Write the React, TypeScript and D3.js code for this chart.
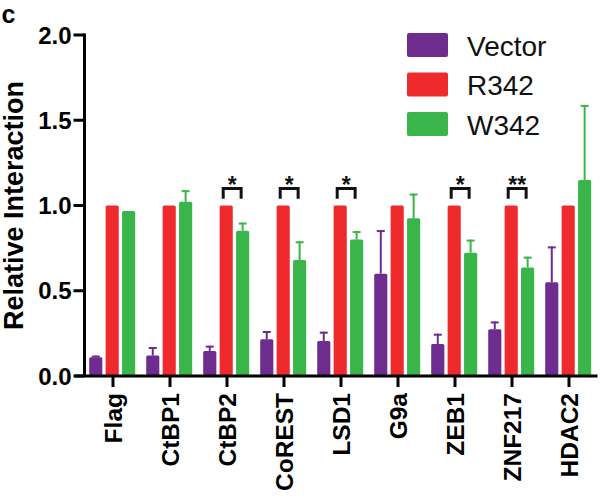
import React from "react";
import * as d3 from "d3";

const categories = ["Flag", "CtBP1", "CtBP2", "CoREST", "LSD1", "G9a", "ZEB1", "ZNF217", "HDAC2"];
const seriesNames = ["Vector", "R342", "W342"];
const vectorValues = [0.11, 0.12, 0.147, 0.215, 0.205, 0.6, 0.188, 0.274, 0.55];
const vectorErrors = [0.12, 0.17, 0.178, 0.264, 0.26, 0.856, 0.248, 0.32, 0.76];
const r342Values = [1, 1, 1, 1, 1, 1, 1, 1, 1];
const r342Errors = [1, 1, 1, 1, 1, 1, 1, 1, 1];
const w342Values = [0.968, 1.022, 0.852, 0.68, 0.8, 0.925, 0.723, 0.637, 1.15];
const w342Errors = [0.968, 1.09, 0.9, 0.79, 0.85, 1.07, 0.8, 0.7, 1.59];
const significance = [
  { category: "CtBP2", label: "*" },
  { category: "CoREST", label: "*" },
  { category: "LSD1", label: "*" },
  { category: "ZEB1", label: "*" },
  { category: "ZNF217", label: "**" },
];
const yTicks = [0, 0.5, 1.0, 1.5, 2.0];
const colors = ["#6f2c8f", "#ee2a2c", "#3ab54a"];

const W = 600;
const H = 498;
const FONT = "'Liberation Sans', Arial, Helvetica, sans-serif";

export default function App() {
  const left = 84.5;
  const right = 597.5;
  const top = 35;
  const bottom = 376;

  const y = d3.scaleLinear().domain([0, 2]).range([bottom, top]);
  const x0 = d3.scaleBand<string>().domain(categories).range([left, right]).padding(0);
  const x1 = d3.scaleBand<string>().domain(seriesNames).range([-23.8, 22.2]).paddingInner(0.2).paddingOuter(0);

  const values = [vectorValues, r342Values, w342Values];
  const errors = [vectorErrors, r342Errors, w342Errors];

  const center = (c: string) => (x0(c) as number) + x0.bandwidth() / 2;
  const bw = x1.bandwidth();

  return (
    <svg width={W} height={H} style={{ position: "absolute", left: 0, top: 0, background: "#fff" }} fontFamily={FONT}>
      <rect x={0} y={0} width={W} height={H} fill="#fff" />
      {/* panel letter */}
      <text x={1.5} y={23} fontSize={25} fontWeight="bold" fill="#000">c</text>

      {/* bars and error bars */}
      {categories.map((c, i) => (
        <g key={c}>
          {seriesNames.map((s, k) => {
            const bx = center(c) + (x1(s) as number);
            const v = values[k][i];
            const e = errors[k][i];
            const cx = bx + bw / 2;
            return (
              <g key={s}>
                {e > v + 0.001 && (
                  <g stroke={colors[k]} strokeWidth={2}>
                    <line x1={cx} x2={cx} y1={y(v)} y2={y(e)} />
                    <line x1={cx - 4} x2={cx + 4} y1={y(e) + 1} y2={y(e) + 1} />
                  </g>
                )}
                <rect x={bx} y={y(v)} width={bw} height={bottom - y(v)} fill={colors[k]} rx={1.5} />
              </g>
            );
          })}
        </g>
      ))}

      {/* significance brackets */}
      {significance.map((sg) => {
        const rc = center(sg.category) + (x1("R342") as number) + bw / 2;
        const gc = center(sg.category) + (x1("W342") as number) + bw / 2;
        const xa = rc - 3;
        const xb = gc - 1.5;
        const ty = y(1.1);
        const ly = y(1.04);
        return (
          <g key={sg.category}>
            <path d={`M${xa},${ly} V${ty} H${xb} V${ly}`} fill="none" stroke="#111" strokeWidth={3} />
            <text x={(xa + xb) / 2} y={ty + 5} fontSize={23} fontWeight="bold" textAnchor="middle" fill="#111">
              {sg.label}
            </text>
          </g>
        );
      })}

      {/* y axis */}
      <line x1={left} x2={left} y1={top - 1.5} y2={bottom} stroke="#000" strokeWidth={3} />
      {yTicks.map((t) => (
        <g key={t}>
          <line x1={left - 11} x2={left} y1={y(t)} y2={y(t)} stroke="#000" strokeWidth={3} />
          <text x={left - 13} y={y(t) + 8.5} fontSize={24} fontWeight="bold" textAnchor="end" fill="#000">
            {d3.format(".1f")(t)}
          </text>
        </g>
      ))}
      <text
        transform={`translate(23, ${(top + bottom) / 2}) rotate(-90)`}
        fontSize={27}
        fontWeight="bold"
        textAnchor="middle"
        fill="#000"
      >
        Relative Interaction
      </text>

      {/* x axis */}
      <line x1={left - 10} x2={right} y1={bottom} y2={bottom} stroke="#000" strokeWidth={3} />
      {categories.map((c) => (
        <g key={c}>
          <line x1={center(c)} x2={center(c)} y1={bottom} y2={bottom + 11} stroke="#000" strokeWidth={3} />
          <text
            transform={`translate(${center(c)}, ${bottom + 17}) rotate(-90)`}
            dy="0.35em"
            fontSize={24.5}
            fontWeight="bold"
            textAnchor="end"
            fill="#000"
          >
            {c}
          </text>
        </g>
      ))}

      {/* legend */}
      {seriesNames.map((s, k) => (
        <g key={s} transform={`translate(407, ${33 + k * 39.5})`}>
          <rect x={0} y={0} width={41} height={24} rx={2} fill={colors[k]} />
          <text x={60} y={22.5} fontSize={28} fill="#111">{s}</text>
        </g>
      ))}
    </svg>
  );
}
